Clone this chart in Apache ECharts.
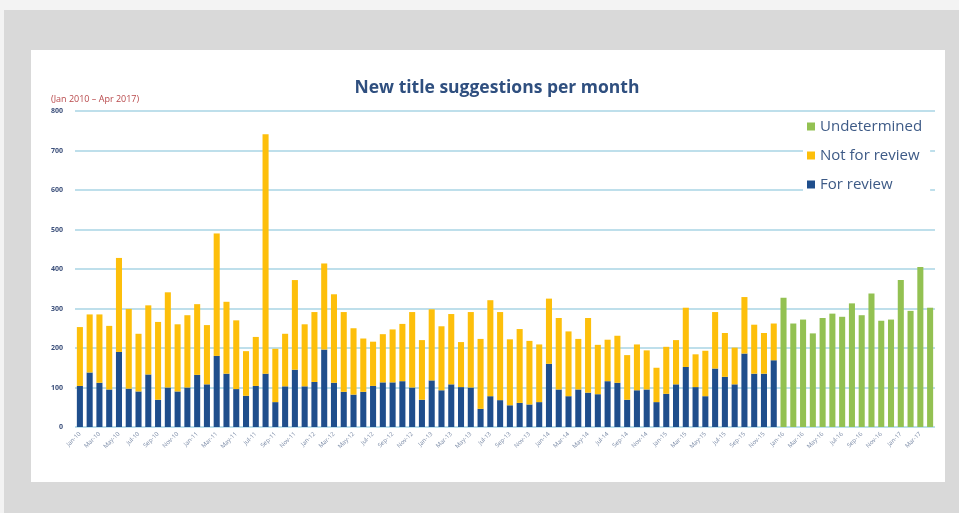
<!DOCTYPE html>
<html>
<head>
<meta charset="utf-8">
<script src="https://cdn.jsdelivr.net/npm/echarts@6/dist/echarts.min.js"></script>
<style>
  html, body { margin: 0; padding: 0; background: #f3f3f3; }
  #frame { position: absolute; left: 4px; top: 10px; width: 955px; height: 503px; background: #d9d9d9; }
  #panel { position: absolute; left: 31px; top: 50px; width: 914px; height: 432px; background: #ffffff; }
  #chart { position: absolute; left: 0; top: 0; width: 959px; height: 513px; }
</style>
</head>
<body>
<div id="frame"></div>
<div id="panel"></div>
<div id="chart"></div>
<script>
// monthly counts, Jan 2010 - Apr 2017
const monthNames = ["Jan", "Feb", "Mar", "Apr", "May", "Jun", "Jul", "Aug", "Sep", "Oct", "Nov", "Dec"];
const months = [];
for (let y = 10; y <= 17; y++) {
  for (let m = 0; m < 12; m++) {
    if (y === 17 && m > 3) break;
    months.push(monthNames[m] + "-" + y);
  }
}

// Jan 2010 - Dec 2015 (72 months)
const forReview = [
  104, 138, 112, 95, 190, 97, 90, 133, 69, 100, 90, 100,
  132, 108, 180, 135, 96, 79, 104, 135, 63, 103, 145, 103,
  114, 196, 112, 89, 82, 89, 104, 113, 113, 116, 100, 69,
  118, 93, 108, 101, 100, 46, 78, 68, 55, 61, 57, 63,
  160, 95, 78, 95, 87, 83, 116, 112, 69, 93, 95, 63,
  84, 108, 152, 101, 78, 148, 127, 108, 186, 135, 135, 169
];
const notForReview = [
  149, 147, 173, 161, 238, 202, 146, 175, 197, 241, 170, 183,
  179, 150, 310, 182, 174, 113, 124, 606, 135, 133, 227, 157,
  177, 218, 224, 202, 168, 135, 112, 122, 134, 145, 191, 151,
  180, 162, 178, 114, 191, 177, 243, 223, 167, 187, 161, 146,
  165, 181, 164, 128, 189, 125, 105, 119, 113, 116, 99, 87,
  119, 112, 150, 83, 115, 143, 111, 93, 143, 124, 103, 93
];
// Jan 2016 - Apr 2017 (16 months)
const undetermined = [
  327, 262, 272, 237, 276, 287, 279, 313,
  283, 338, 269, 272, 372, 294, 405, 302
];

const blueData = forReview.concat(new Array(16).fill(null));
const orangeData = notForReview.concat(new Array(16).fill(null));
const greenData = new Array(72).fill(null).concat(undetermined);

const chart = echarts.init(document.getElementById("chart"));

const option = {
  backgroundColor: "transparent",
  animation: false,
  title: [
    {
      text: "New title suggestions per month",
      left: 492,
      top: 74,
      textAlign: "center",
      textStyle: { color: "#2f4f7f", fontSize: 17.5, fontWeight: "bold", fontFamily: "Open Sans" },
    },
    {
      text: "(Jan 2010 \u2013 Apr 2017)",
      left: 46,
      top: 90,
      textStyle: { color: "#b8484a", fontSize: 9, fontWeight: "normal", fontFamily: "Open Sans" },
    },
  ],
  legend: {
    orient: "vertical",
    left: 803,
    top: 115,
    backgroundColor: "#ffffff",
    padding: [4, 8, 6, 4],
    itemWidth: 8,
    itemHeight: 8,
    itemGap: 14,
    icon: "rect",
    data: ["Undetermined", "Not for review", "For review"],
    textStyle: { color: "#3d5a86", fontSize: 15, fontFamily: "Open Sans" },
  },
  grid: {
    left: 75,
    right: 24,
    top: 111,
    bottom: 86,
  },
  xAxis: {
    type: "category",
    data: months,
    axisTick: { show: false },
    axisLine: { show: false },
    axisLabel: {
      interval: 1,
      rotate: 45,
      fontSize: 6,
      color: "#7a8aa6",
      margin: 6,
      fontFamily: "Open Sans",
    },
  },
  yAxis: {
    type: "value",
    min: 0,
    max: 800,
    interval: 100,
    axisLine: { show: false },
    axisTick: { show: false },
    axisLabel: {
      color: "#3b4f7a",
      fontSize: 7,
      fontWeight: "bold",
      margin: 12,
      fontFamily: "Open Sans",
    },
    splitLine: { lineStyle: { color: "#a9d5e4", width: 1.5 } },
  },
  series: [
    {
      name: "For review",
      type: "bar",
      stack: "total",
      barCategoryGap: "38%",
      data: blueData,
      itemStyle: { color: "#1f4e8c" },
      z: 3,
    },
    {
      name: "Not for review",
      type: "bar",
      stack: "total",
      data: orangeData,
      itemStyle: { color: "#fdbf0b" },
      z: 3,
    },
    {
      name: "Undetermined",
      type: "bar",
      stack: "total",
      data: greenData,
      itemStyle: { color: "#93c152" },
      z: 3,
    },
  ],
};

chart.setOption(option);
</script>
</body>
</html>
